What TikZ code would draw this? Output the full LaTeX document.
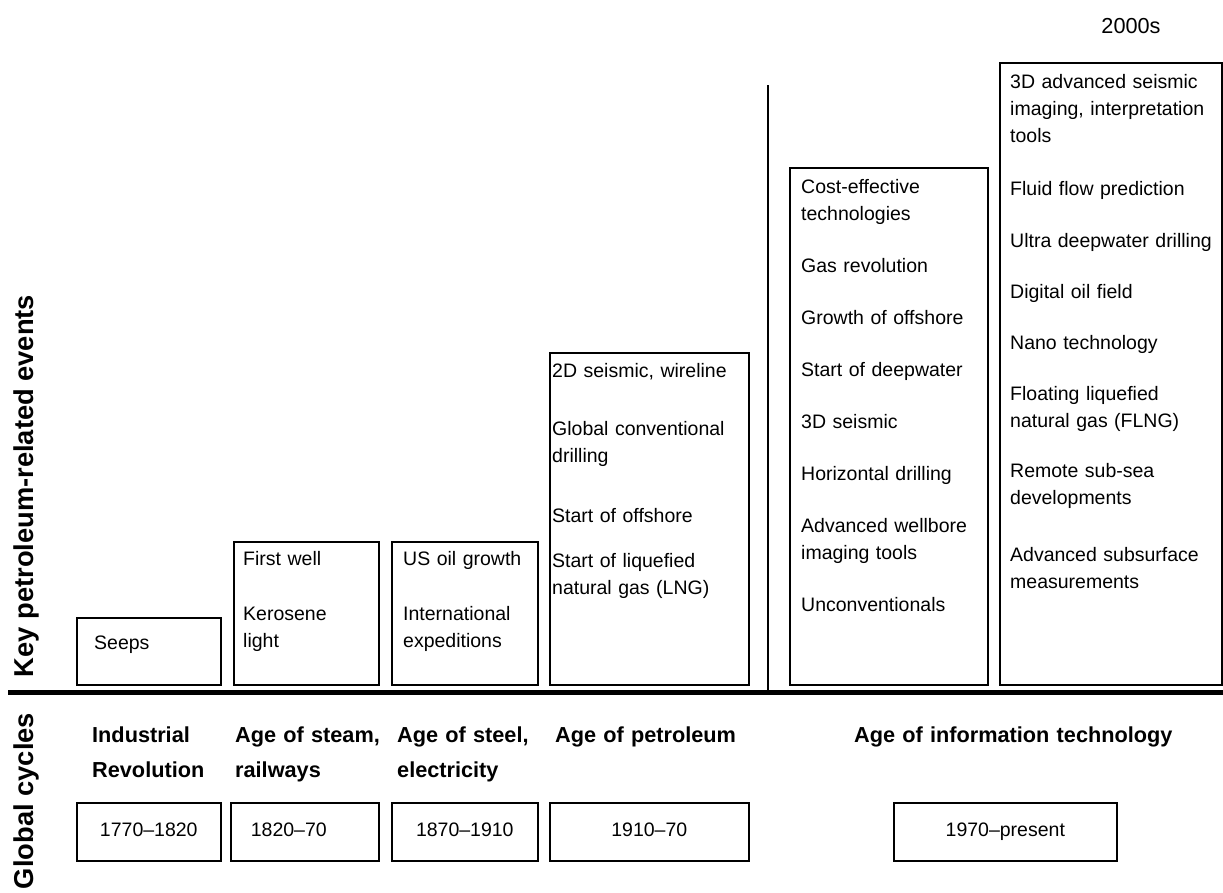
\documentclass[tikz,border=0pt]{standalone}
\usepackage{fontspec}
\setmainfont{Liberation Sans}
\newcommand{\itemfont}{\fontsize{19.5}{27}\selectfont}
\newcommand{\headfont}{\fontsize{21.7}{35}\selectfont\bfseries}
\newcommand{\sidefont}{\fontsize{27.3}{32}\selectfont\bfseries}

\begin{document}
\begin{tikzpicture}[x=1pt,y=-1pt,
  box/.style={draw,line width=1.6,inner sep=0,anchor=north west},
  item/.style={font=\itemfont,text width=215,align=left,inner sep=0,anchor=base west},
  cycle/.style={font=\headfont,text width=400,align=left,inner sep=0,anchor=base west},
  years/.style={box,font=\itemfont,minimum height=58,text height=14,text depth=4},
  side/.style={font=\sidefont,inner sep=0,rotate=90}]
\useasboundingbox (0,0) rectangle (1223,892);

% petroleum events
\node[box,minimum width=144,minimum height=67] (ev1) at (76,617) {};
\node[box,minimum width=145,minimum height=143] (ev2) at (233,541) {};
\node[box,minimum width=146,minimum height=143] (ev3) at (391,541) {};
\node[box,minimum width=199,minimum height=332] (ev4) at (549,352) {};
\node[box,minimum width=198,minimum height=517] (ev5) at (789,167) {};
\node[box,minimum width=222,minimum height=622] (ev6) at (999,62) {};

\node[item] (t1) at ([shift={(18,32)}]ev1.north west) {Seeps};
\node[item] (t2) at ([shift={(10,24)}]ev2.north west) {First well\\[28pt]Kerosene\\light};
\node[item] (t3) at ([shift={(12,24)}]ev3.north west) {US oil growth\\[28pt]International\\expeditions};
\node[item] (t4) at ([shift={(3,25)}]ev4.north west) {2D seismic, wireline\\[31pt]Global conventional\\drilling\\[33pt]Start of offshore\\[18pt]Start of liquefied\\natural gas (LNG)};
\node[item] (t5) at ([shift={(12,26)}]ev5.north west) {Cost-effective\\technologies\\[25pt]Gas revolution\\[25pt]Growth of offshore\\[25pt]Start of deepwater\\[25pt]3D seismic\\[25pt]Horizontal drilling\\[25pt]Advanced wellbore\\imaging tools\\[25pt]Unconventionals};
\node[item] (t6) at ([shift={(11,26)}]ev6.north west) {3D advanced seismic\\imaging, interpretation\\tools\\[26pt]Fluid flow prediction\\[25pt]Ultra deepwater drilling\\[24pt]Digital oil field\\[24pt]Nano technology\\[24pt]Floating liquefied\\natural gas (FLNG)\\[23pt]Remote sub-sea\\developments\\[30pt]Advanced subsurface\\measurements};

\node[font=\fontsize{21.7}{26}\selectfont,anchor=base] (era) at (1131,33) {2000s};

% dividers
\coordinate (vtop) at (768,85);
\coordinate (vbot) at (768,692);
\coordinate (hl) at (8,692);
\coordinate (hr) at (1223,692);
\draw[line width=2] (vtop) -- (vbot);
\draw[line width=5] (hl) -- (hr);

% global cycles
\node[cycle] (c1) at (92,742) {Industrial\\Revolution};
\node[cycle] (c2) at (235,742) {Age of steam,\\railways};
\node[cycle] (c3) at (397,742) {Age of steel,\\electricity};
\node[cycle] (c4) at (555,742) {Age of petroleum};
\node[cycle] (c5) at (854,742) {Age of information technology};

\node[years,minimum width=144] (yr1) at (76,802) {1770--1820};
\node[years,minimum width=148] (yr2) at (230,802) {1820--70\hspace*{32pt}};
\node[years,minimum width=146] (yr3) at (391,802) {1870--1910};
\node[years,minimum width=199] (yr4) at (549,802) {1910--70};
\node[years,minimum width=223] (yr5) at (893,802) {1970--present};

% side labels
\node[side] (keylab) at (26,486) {Key petroleum-related events};
\node[side] (cyclab) at (26,801) {Global cycles};
\end{tikzpicture}
\end{document}
